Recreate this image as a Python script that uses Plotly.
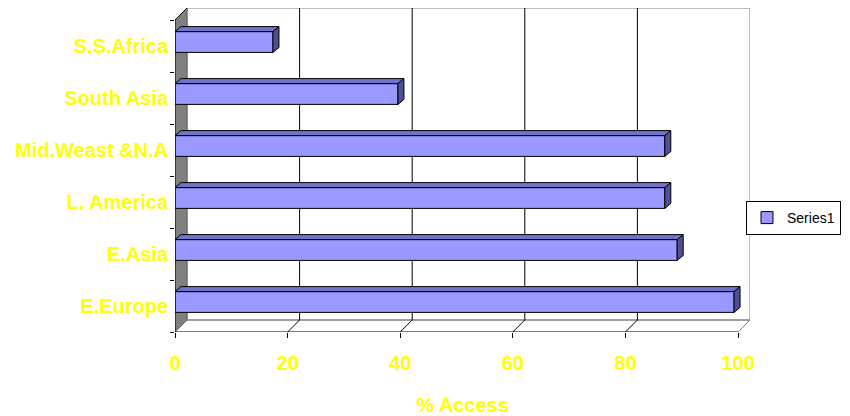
import plotly.graph_objects as go

# ---- data ----
categories = ["E.Europe", "E.Asia", "L. America", "Mid.Weast &N.A", "South Asia", "S.S.Africa"]
access = [99.3, 89.2, 87.0, 87.0, 39.6, 17.4]
x_ticks = [0, 20, 40, 60, 80, 100]
series_name = "Series1"
x_title = "% Access"

# ---- layout geometry (style) ----
W, H = 850, 416
ML, MR, MT, MB = 175, 100, 8, 84
plot_w = W - ML - MR
plot_h = H - MT - MB
DEPTH = 12          # wall depth in px
BAR_DX, BAR_DY = 6, 5   # bar 3D depth in px
ncat = len(categories)
xmax = max(x_ticks)
px_x = (plot_w - DEPTH) / xmax
px_y = (plot_h - DEPTH) / ncat
DX = DEPTH / px_x
DY = DEPTH / px_y
bdx = BAR_DX / px_x
bdy = BAR_DY / px_y
y_lo = -0.5
y_hi = y_lo + ncat
BAR_W = 0.4
BAR_OFF = -BAR_W / 2 + 4 / px_y

FRONT = "#9999FF"
TOP = "#7373CC"
SIDE = "#4F4F94"
WALL = "#808080"
YEL = "#FFFF00"
FONT = "Liberation Sans, Arial, sans-serif"

fig = go.Figure()
fig.add_trace(go.Bar(
    x=access, y=categories, orientation="h", name=series_name,
    marker=dict(color=FRONT, line=dict(color="black", width=1)),
    width=BAR_W, offset=BAR_OFF, showlegend=True,
))

shapes = []
# back wall
shapes.append(dict(type="rect", layer="below", xref="x", yref="y",
                   x0=DX, x1=xmax + DX, y0=y_lo + DY, y1=y_hi + DY,
                   fillcolor="white", line=dict(color=WALL, width=1)))
# left wall
shapes.append(dict(type="path", layer="below", xref="x", yref="y",
                   path=f"M 0 {y_lo} L {DX} {y_lo+DY} L {DX} {y_hi+DY} L 0 {y_hi} Z",
                   fillcolor=WALL, line=dict(color="#606060", width=1)))
# floor outline
shapes.append(dict(type="path", layer="below", xref="x", yref="y",
                   path=f"M {DX} {y_lo+DY} L {xmax+DX} {y_lo+DY} L {xmax} {y_lo}",
                   line=dict(color=WALL, width=1)))
# gridlines on back wall and floor slants
for t in x_ticks:
    if 0 < t < xmax:
        shapes.append(dict(type="line", layer="below", xref="x", yref="y",
                           x0=t + DX, x1=t + DX, y0=y_lo + DY, y1=y_hi + DY,
                           line=dict(color="black", width=1)))
    if t > 0:
        shapes.append(dict(type="line", layer="below", xref="x", yref="y",
                           x0=t, x1=t + DX, y0=y_lo, y1=y_lo + DY,
                           line=dict(color="black" if t < xmax else WALL, width=1)))
# front axes lines
shapes.append(dict(type="line", layer="above", xref="x", yref="y",
                   x0=0, x1=xmax, y0=y_lo, y1=y_lo, line=dict(color="black", width=1)))
shapes.append(dict(type="line", layer="above", xref="x", yref="y",
                   x0=0, x1=0, y0=y_lo, y1=y_hi, line=dict(color="black", width=1)))
shapes.append(dict(type="line", layer="below", xref="x", yref="y",
                   x0=0, x1=DX, y0=y_hi, y1=y_hi + DY, line=dict(color="black", width=1)))

# bar 3D faces
for i, v in enumerate(access):
    yb = i + BAR_OFF
    yt = yb + BAR_W
    shapes.append(dict(type="path", layer="above", xref="x", yref="y",
                       path=f"M 0 {yt} L {v} {yt} L {v+bdx} {yt+bdy} L {bdx} {yt+bdy} Z",
                       fillcolor=TOP, line=dict(color="black", width=1)))
    shapes.append(dict(type="path", layer="above", xref="x", yref="y",
                       path=f"M {v} {yb} L {v} {yt} L {v+bdx} {yt+bdy} L {v+bdx} {yb+bdy} Z",
                       fillcolor=SIDE, line=dict(color="black", width=1)))

fig.update_layout(
    width=W, height=H,
    margin=dict(l=ML, r=MR, t=MT, b=MB, pad=0, autoexpand=False),
    paper_bgcolor="white", plot_bgcolor="white",
    shapes=shapes,
    xaxis=dict(range=[0, xmax + DX], tickvals=x_ticks, ticks="outside", ticklen=5,
               tickcolor="black", showgrid=False, zeroline=False, showline=False,
               automargin=False,
               tickfont=dict(family=FONT, size=20, color=YEL, weight="bold"),
               ticklabelstandoff=8,
               title=dict(text=x_title, standoff=30,
                          font=dict(family=FONT, size=20, color=YEL, weight="bold"))),
    yaxis=dict(type="category", categoryorder="array", categoryarray=categories,
               range=[y_lo, y_hi + DY], tickson="boundaries", ticks="outside", ticklen=4,
               tickcolor="black", showgrid=False, zeroline=False, showline=False,
               automargin=False, ticklabelstandoff=6,
               tickfont=dict(family=FONT, size=20, color=YEL, weight="bold")),
    legend=dict(x=(746 - ML) / plot_w, y=(H - MB - 218) / plot_h, xanchor="left", yanchor="middle",
                bordercolor="black", borderwidth=1, bgcolor="white",
                font=dict(family=FONT, size=14, color="black"),
                itemwidth=30),
)

fig.write_html("out.html")
